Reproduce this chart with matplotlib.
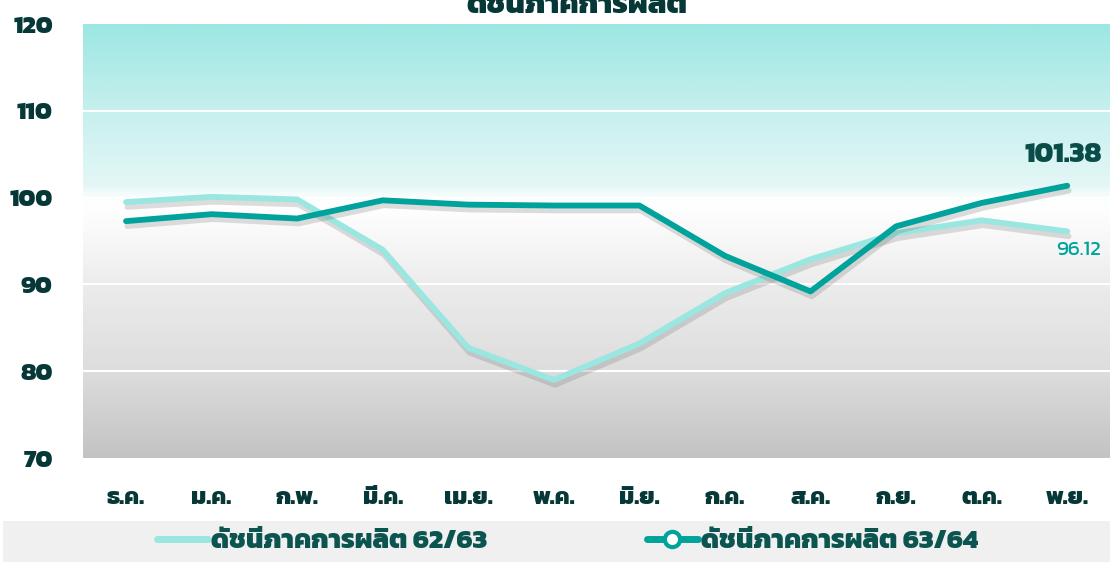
import numpy as np
import matplotlib
matplotlib.use('Agg')
import matplotlib.pyplot as plt
import matplotlib.patheffects as pe
from matplotlib import font_manager
from matplotlib.ft2font import FT2Font
from matplotlib.colors import LinearSegmentedColormap
from matplotlib.lines import Line2D
from matplotlib.patches import Rectangle

months = ['ธ.ค.', 'ม.ค.', 'ก.พ.', 'มี.ค.', 'เม.ย.', 'พ.ค.',
          'มิ.ย.', 'ก.ค.', 'ส.ค.', 'ก.ย.', 'ต.ค.', 'พ.ย.']
idx_6263 = [99.5, 100.1, 99.8, 94.0, 82.7, 79.0, 83.2, 89.0, 92.9, 95.9, 97.4, 96.12]
idx_6364 = [97.3, 98.1, 97.6, 99.7, 99.2, 99.1, 99.1, 93.3, 89.2, 96.7, 99.4, 101.38]
label_6263 = 'ดัชนีภาคการผลิต 62/63'
label_6364 = 'ดัชนีภาคการผลิต 63/64'
title = 'ดัชนีภาคการผลิต'

# find a font that has Thai glyphs, loopless ones first
thai = []
for f in font_manager.fontManager.ttflist:
    try:
        if 0x0E14 in FT2Font(f.fname).get_charmap():
            thai.append(f)
    except Exception:
        pass
def rank(f):
    n = f.name
    if 'Noto Sans Thai' in n and 'Looped' not in n:
        return 0
    if n in ('Kanit', 'Prompt', 'Sarabun', 'Mitr'):
        return 0
    if 'Noto' in n:
        return 1
    return 2
thai.sort(key=rank)
fams = [thai[0].name] if thai else []
plt.rcParams['font.family'] = fams + ['DejaVu Sans']

dark_txt = '#073838'
c_light = '#9ae6e1'
c_dark = '#00a39c'

fig = plt.figure(figsize=(11.1, 5.62), dpi=100)
ax = fig.add_axes([0.075, 0.185, 0.925, 0.772])

# background gradient
stops = [(0.0, '#c3c3c3'), (0.2, '#dddddd'), (0.4, '#ececec'), (0.5, '#f7f7f7'),
         (0.58, '#ffffff'), (0.6, '#fbfefe'), (0.63, '#e4f7f6'), (0.8, '#c6f0ee'),
         (1.0, '#9de7e3')]
cmap = LinearSegmentedColormap.from_list('bg', stops)
grad = np.linspace(0, 1, 400).reshape(-1, 1)
ax.imshow(grad, cmap=cmap, aspect='auto', origin='lower',
          extent=[-0.5, 11.5, 70, 120], zorder=0)

x = np.arange(len(months))
shadow = [pe.SimpleLineShadow(offset=(1, -3.5), shadow_color='#666666', alpha=0.22),
          pe.Normal()]
ax.plot(x, idx_6263, color=c_light, lw=4.2, solid_capstyle='round',
        solid_joinstyle='round', path_effects=shadow, zorder=3)
ax.plot(x, idx_6364, color=c_dark, lw=4.2, solid_capstyle='round',
        solid_joinstyle='round', path_effects=shadow, zorder=4)

ax.set_xlim(-0.5, 11.5)
ax.set_ylim(70, 120)
ax.set_yticks([70, 80, 90, 100, 110, 120])
ax.set_xticks(x)
ax.set_xticklabels(months)
for s in ax.spines.values():
    s.set_visible(False)
ax.tick_params(length=0)
ax.tick_params(axis='y', pad=22, labelsize=18, labelcolor=dark_txt)
ax.tick_params(axis='x', pad=21, labelsize=17, labelcolor=dark_txt)
for lab in ax.get_xticklabels() + ax.get_yticklabels():
    lab.set_fontweight('heavy')
for v in [80, 90, 100, 110]:
    ax.axhline(v, color='white', lw=1.5, zorder=1)

ax.annotate(f'{idx_6364[-1]:.2f}', (x[-1], idx_6364[-1]), xytext=(-3, 13),
            textcoords='offset points', ha='center', va='bottom',
            fontsize=20, fontweight='heavy', color='#0a4d48')
ax.annotate(f'{idx_6263[-1]:.2f}', (x[-1], idx_6263[-1]), xytext=(8, -7),
            textcoords='offset points', ha='center', va='top',
            fontsize=15, color=c_dark)

fig.text(0.52, 1 - 13 / 562, title, ha='center', va='baseline', fontsize=22,
         fontweight='heavy', color=dark_txt)

# legend band
fig.patches.append(Rectangle((0.003, 0), 0.997, 0.073, transform=fig.transFigure,
                             facecolor='#f0f0f0', edgecolor='none', zorder=0))
h1 = Line2D([], [], color=c_light, lw=5, solid_capstyle='round')
h2 = Line2D([], [], color=c_dark, lw=5, marker='o', markersize=11,
            markerfacecolor='white', markeredgecolor=c_dark, markeredgewidth=3,
            solid_capstyle='round')
leg = fig.legend([h1, h2], [label_6263, label_6364], ncol=2, loc='center',
                 bbox_to_anchor=(0.511, 0.037), frameon=False, fontsize=19.5,
                 handlelength=1.9, handletextpad=0.1, columnspacing=5.9)
for t in leg.get_texts():
    t.set_fontweight('heavy')
    t.set_color('#0b5450')

fig.savefig('out.png', dpi=100)
